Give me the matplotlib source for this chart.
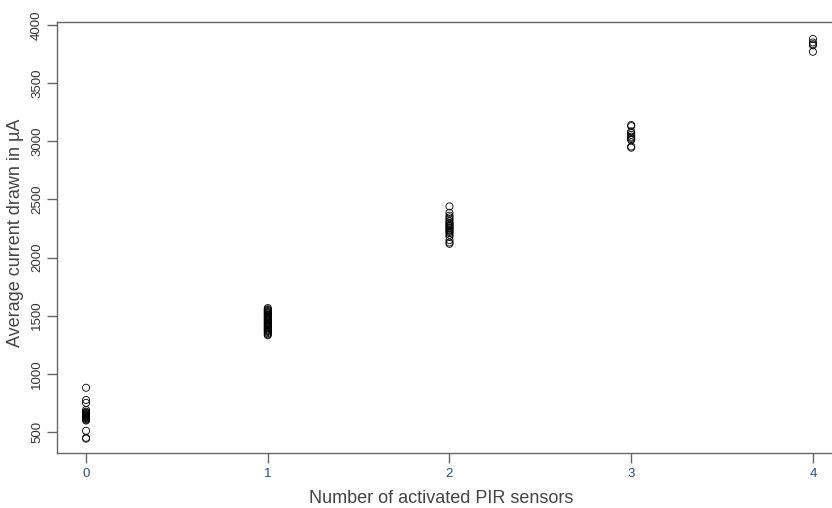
import numpy as np
import matplotlib.pyplot as plt

plt.rcParams['font.family'] = ['Liberation Sans', 'DejaVu Sans']

# average current (uA) per number of activated PIR sensors
sensors0 = [880, 775, 750, 690, 675, 668, 662, 655, 650, 645, 640, 635, 630, 625,
            620, 612, 605, 598, 510, 450, 442]
sensors1 = [1565, 1555, 1548, 1540, 1532, 1525, 1518, 1510, 1502, 1495, 1488, 1480,
            1472, 1465, 1458, 1450, 1442, 1435, 1428, 1420, 1412, 1405, 1398, 1390,
            1382, 1375, 1368, 1360, 1350, 1340, 1332]
sensors2 = [2440, 2385, 2360, 2345, 2330, 2315, 2300, 2290, 2280, 2270, 2260, 2250,
            2240, 2230, 2220, 2210, 2195, 2180, 2150, 2130, 2118]
sensors3 = [3140, 3130, 3085, 3070, 3055, 3040, 3030, 3020, 3010, 2955, 2945]
sensors4 = [3880, 3850, 3835, 3825, 3770]

groups = [sensors0, sensors1, sensors2, sensors3, sensors4]
xticks = [0, 1, 2, 3, 4]
yticks = [500, 1000, 1500, 2000, 2500, 3000, 3500, 4000]

fig = plt.figure(figsize=(8.32, 5.08), dpi=100)
ax = fig.add_axes([0.0685, 0.1083, 0.9435, 0.8484])

for n, vals in zip(xticks, groups):
    ax.scatter([n] * len(vals), vals, s=26, facecolors='none',
               edgecolors='black', linewidths=0.6)

ax.set_xlim(-0.16, 4.16)
ax.set_ylim(319, 4026)
ax.set_xticks(xticks)
ax.set_yticks(yticks)
ax.set_yticklabels([str(v) for v in yticks], rotation=90, va='center')

for s in ax.spines.values():
    s.set_color('#666666')
    s.set_linewidth(1.0)

ax.tick_params(axis='both', length=7, width=1.0, color='#666666', labelsize=9.5)
ax.tick_params(axis='x', pad=4, labelcolor='#1f4f8f')
ax.tick_params(axis='y', pad=3, labelcolor='#333333')

ax.set_xlabel('Number of activated PIR sensors', fontsize=13, color='#444444', va='center')
ax.set_ylabel('Average current drawn in µA', fontsize=13, color='#444444', va='center')
ax.xaxis.set_label_coords(0.49, -0.105)
ax.yaxis.set_label_coords(-0.053, 0.51)

fig.savefig('out.png', dpi=100)
